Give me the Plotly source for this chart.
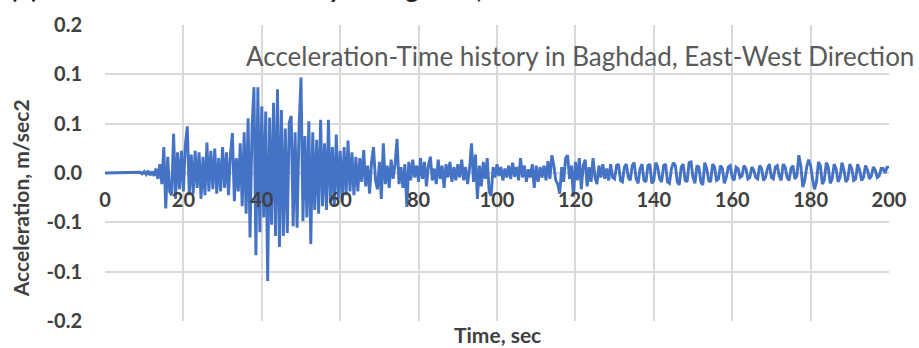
import plotly.graph_objects as go

# Ground acceleration record, Baghdad, East-West component.
# Samples every 0.5 s, values in units of 0.001 m/sec2 (one row = 5 s).
sample_step_s = 0.5
accel_milli = [
    0, 0, 0, 0, 0, 0, 0, 0, 0, 0,                       # 0-5 s
    0, 0, 0, 0, 0, 0, 0, 0, 1, -1,                      # 5-10
    2, -2, 3, -3, 2, -4, 6, -8, 12, -15,                # 10-15
    35, -48, 22, -25, -30, 53, -35, 28, -22, 30,        # 15-20
    -25, 38, 63, -30, 25, -28, 30, -20, 28, -35,        # 20-25
    22, -30, 41, -25, 30, -22, 33, -28, 20, -25,        # 25-30
    35, -20, 28, -30, 25, 54, -38, 20, -25, 40,         # 30-35
    -45, 55, -55, 74, -87, 60, 116, -111, 116, -80,     # 35-40
    90, -60, 83, -146, 75, -70, 95, -85, 113, -100,     # 40-45
    85, -85, 60, -81, 68, 77, -72, 55, -74, 60,         # 45-50
    129, -65, 50, -60, 70, -96, 55, -50, 45, -55,       # 50-55
    72, -45, 40, -50, 72, -40, 35, -45, 52, -35,        # 55-60
    30, -38, 35, -30, 44, -25, 28, -30, 22, -25,        # 60-65
    20, -12, 31, -18, 10, -28, 15, 35, -10, -22,        # 65-70
    15, -35, 40, -15, 10, -20, 18, -8, 12, 46,          # 70-75
    -15, 8, -20, 12, -46, 15, -10, 18, -6, 10,          # 75-80
    -12, 20, -8, 15, -18, 10, 22, -10, 6, -15,          # 80-85
    18, -8, 10, -20, 12, -6, 15, -12, 8, -10,           # 85-90
    12, -6, 18, -10, 8, -15, 6, 40, -12, 25,            # 90-95
    -35, 10, -18, 15, -8, 20, -25, -31, 8, -6,          # 95-100
    12, -4, 8, -10, 6, -6, 10, -8, 14, -5,              # 100-105
    8, -10, 20, -6, 10, -12, 5, -6, 12, -20,            # 105-110
    10, -12, 8, -6, 10, -10, 16, -8, 24, 10,            # 110-115
    -10, -15, -28, 8, -12, 20, 24, -8, 10, -32,         # 115-120
    15, -10, 20, -22, 10, 18, -18, 8, -12, 20,          # 120-125
    -6, -15, 10, -6, 12, -8, 6, -10, 12, -6,            # 125-130
    -8, 10, 12, -10, -12, 8, 12, -6, -10, 10,           # 130-135
    14, -8, -14, 6, 12, -10, -12, 10, 12, -14,          # 135-140
    -10, 14, 8, -8, -12, 10, 12, -12, -14, 6,           # 140-145
    14, 10, -12, -16, 8, 12, -10, -12, 14, 15,          # 145-150
    -6, -14, 10, 8, -12, -16, 14, 6, -10, -12,          # 150-155
    12, 8, -10, -8, 10, 6, -14, -6, 8, 10,              # 155-160
    -6, -10, 8, 6, -6, -4, 10, 6, -8, -6,               # 160-165
    8, 4, -6, -8, 10, 6, -10, -6, 6, 12,                # 165-170
    -6, -8, 8, 10, -4, -10, 12, 8, -6, -10,             # 170-175
    6, 10, -8, -4, 24, 10, -19, -10, 8, 18,             # 175-180
    10, -8, -22, -12, 15, 10, -15, -10, 14, 8,          # 180-185
    -14, -8, 12, 6, -12, -6, 14, 4, -12, -8,            # 185-190
    12, 6, -10, -8, 12, 4, -10, -6, 10, 4,              # 190-195
    -8, -4, 8, 4, -6, -4, 6, 6, 0, 8,                   # 195-200
    8,
]

time_s = [i * sample_step_s for i in range(len(accel_milli))]
accel = [v / 1000 for v in accel_milli]

x_ticks = [0, 20, 40, 60, 80, 100, 120, 140, 160, 180, 200]
y_ticks = [-0.2, -2 / 15, -1 / 15, 0.0, 1 / 15, 2 / 15, 0.2]
y_tick_labels = ["-0.2", "-0.1", "-0.1", "0.0", "0.1", "0.1", "0.2"]

chart_title = "Acceleration-Time history in Baghdad, East-West Direction"
caption = "(b) Acceleration-Time history in Baghdad, East-West Direction"

label_font = dict(family="Lato", size=20, color="#404040")
grid_color = "#D9D9D9"

fig = go.Figure(
    go.Scatter(
        x=time_s,
        y=accel,
        mode="lines",
        line=dict(color="#4472C4", width=2.9),
        hoverinfo="skip",
    )
)

fig.update_layout(
    width=919,
    height=348,
    margin=dict(l=105, r=26, t=16, b=27),
    paper_bgcolor="white",
    plot_bgcolor="white",
    showlegend=False,
    font=dict(family="Lato", color="#404040"),
    xaxis=dict(
        range=[0, 200],
        tickvals=x_ticks,
        ticktext=[f"<b>{v}</b>" for v in x_ticks],
        tickfont=label_font,
        showgrid=True,
        gridcolor=grid_color,
        gridwidth=1.5,
        zeroline=False,
        showline=False,
        anchor="free",
        position=0.5,
        ticks="",
        ticklabelstandoff=13,
        layer="above traces",
    ),
    yaxis=dict(
        range=[-0.2, 0.2],
        tickvals=y_ticks,
        ticktext=[f"<b>{t}</b>" for t in y_tick_labels],
        tickfont=label_font,
        showgrid=True,
        gridcolor=grid_color,
        gridwidth=1.5,
        zeroline=False,
        showline=False,
        ticks="",
        ticklabelstandoff=22,
    ),
    annotations=[
        dict(
            text=chart_title,
            xref="paper", yref="paper",
            x=(245 - 105) / 788, y=(321 - 48) / 305,
            xanchor="left", yanchor="middle",
            showarrow=False,
            font=dict(family="Lato", size=26, color="#595959"),
        ),
        dict(
            text="<b>Time, sec</b>",
            xref="paper", yref="paper",
            x=(500 - 105) / 788, y=(321 - 335) / 305,
            xanchor="center", yanchor="middle",
            showarrow=False,
            font=dict(family="Lato", size=21, color="#404040"),
        ),
        dict(
            text="<b>Acceleration, m/sec2</b>",
            xref="paper", yref="paper",
            x=(20 - 105) / 788, y=(321 - 194) / 305,
            xanchor="center", yanchor="middle",
            textangle=-90,
            showarrow=False,
            font=dict(family="Lato", size=21, color="#404040"),
        ),
        dict(
            text=f"<b>{caption}</b>",
            xref="paper", yref="paper",
            x=(8 - 105) / 788, y=(321 + 22) / 305,
            xanchor="left", yanchor="middle",
            showarrow=False,
            font=dict(family="Lato", size=26, color="#222222"),
        ),
    ],
)

fig.write_html("out.html")
